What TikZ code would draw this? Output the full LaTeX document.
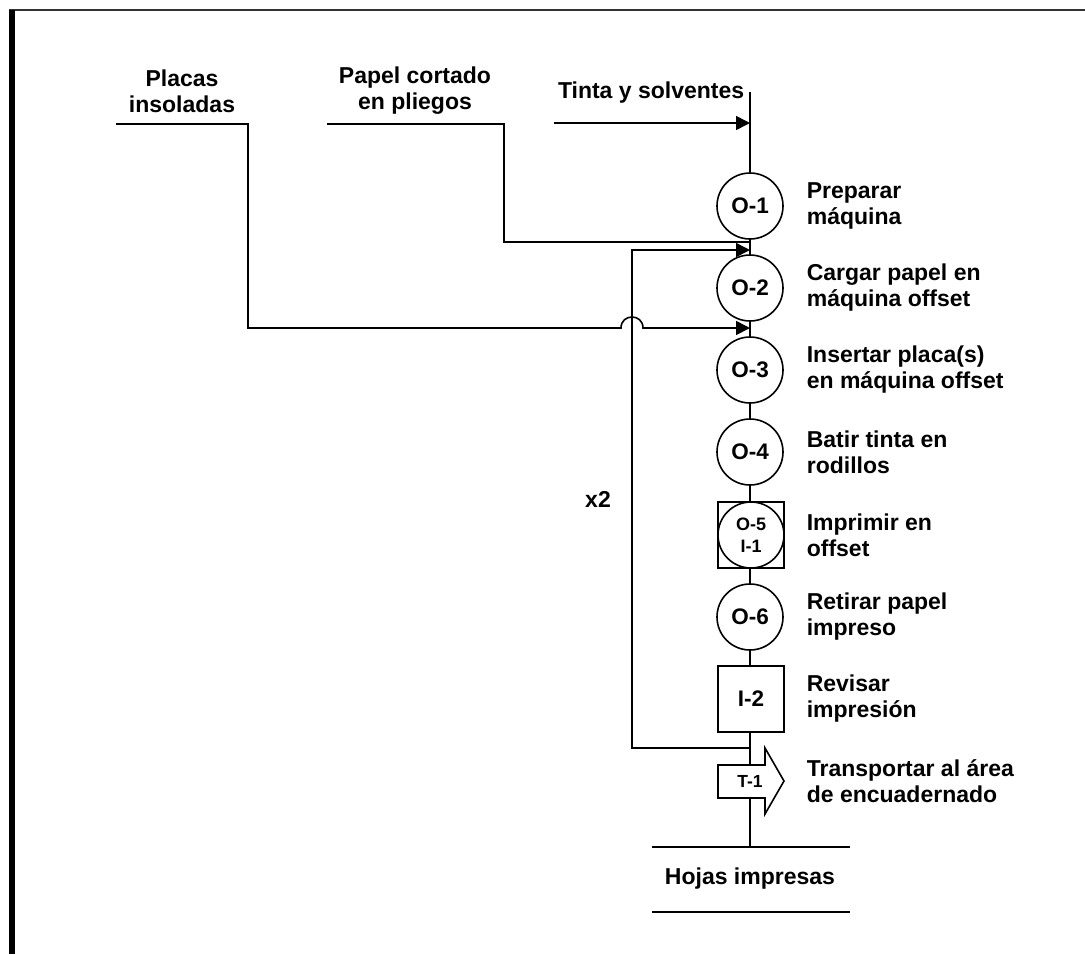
\documentclass[tikz,border=0pt]{standalone}
\usepackage{fontspec}
\setmainfont{Liberation Sans}
\usetikzlibrary{arrows.meta}

\begin{document}
\begin{tikzpicture}[x=1pt,y=-1pt,line width=1.6pt,
  txt/.style={font=\fontsize{23}{26}\selectfont\bfseries, inner sep=0pt},
  desc/.style={txt, align=left, anchor=west},
  head/.style={txt, align=center},
  opnode/.style={circle, draw, fill=white, minimum size=66pt, inner sep=0pt,
                 font=\fontsize{22.5}{24}\selectfont\bfseries},
  inspnode/.style={rectangle, draw, fill=white, minimum size=66pt, inner sep=0pt,
                 font=\fontsize{22.5}{24}\selectfont\bfseries},
  feed/.style={-{Triangle[length=14pt,width=14pt]}},
]
\useasboundingbox (0,0) rectangle (1085,954);

% frame
\draw[line width=2.5pt, black!80] (9,10) -- (1085,10);
\fill (9,10) rectangle (15,954);

% main vertical flow line
\coordinate (top) at (750,92);
\coordinate (bot) at (750,847);
\draw (top) -- (bot);

% inputs
\node[head] (placas) at (182,91) {Placas\\insoladas};
\node[head] (papel) at (415,91) {Papel cortado\\en pliegos};
\node[txt, anchor=base east] (tinta) at (745,98) {Tinta y solventes};

\coordinate (tintaS) at (554,123);
\coordinate (j0) at (750,123);
\coordinate (papelS) at (327,124);
\coordinate (j1) at (750,242);
\coordinate (placasS) at (116,124);
\coordinate (j3) at (750,328);
\coordinate (fbS) at (750,748);
\coordinate (j2) at (750,250);

\draw[feed] (tintaS) -- (j0);
\draw (papelS) -- (504,124) -- (504,242) -- (j1);
\draw[feed] (placasS) -- (248,124) -- (248,328) -- (621,328)
   .. controls (621,313.3) and (643,313.3) .. (643,328) -- (j3);
\draw[feed] (fbS) -- (632,748) -- (632,250) -- (j2);
\node[txt] (rep) at (598,499) {x2};

% operations and inspections
\node[opnode] (o1) at (750,206) {O-1};
\node[opnode] (o2) at (750,288) {O-2};
\node[opnode] (o3) at (750,370) {O-3};
\node[opnode] (o4) at (750,452) {O-4};
\node[inspnode] (o5sq) at (751,535) {};
\node[opnode, font=\fontsize{18}{22}\selectfont\bfseries, align=center] (o5) at (751,535) {O-5\\I-1};
\node[opnode] (o6) at (750,617) {O-6};
\node[inspnode] (i2) at (751,699) {I-2};

% transport
\draw[fill=white] (718,765) -- (765,765) -- (765,748) -- (784,781)
   -- (765,814) -- (765,798) -- (718,798) -- cycle;
\node[txt, font=\fontsize{17.5}{20}\selectfont\bfseries] (t1) at (750,781) {T-1};

% descriptions
\node[desc] (d1) at (806,206) {Preparar\\máquina};
\node[desc] (d2) at (806,288) {Cargar papel en\\máquina offset};
\node[desc] (d3) at (806,370) {Insertar placa(s)\\en máquina offset};
\node[desc] (d4) at (806,452) {Batir tinta en\\rodillos};
\node[desc] (d5) at (806,535) {Imprimir en\\offset};
\node[desc] (d6) at (806,617) {Retirar papel\\impreso};
\node[desc] (d7) at (806,699) {Revisar\\impresión};
\node[desc] (d8) at (806,781) {Transportar al área\\de encuadernado};

% output
\draw (652,847) -- (bot) -- (850,847);
\node[txt] (hojas) at (750,879) {Hojas impresas};
\coordinate (hL) at (652,912);
\coordinate (hR) at (850,912);
\draw (hL) -- (hR);
\end{tikzpicture}
\end{document}
